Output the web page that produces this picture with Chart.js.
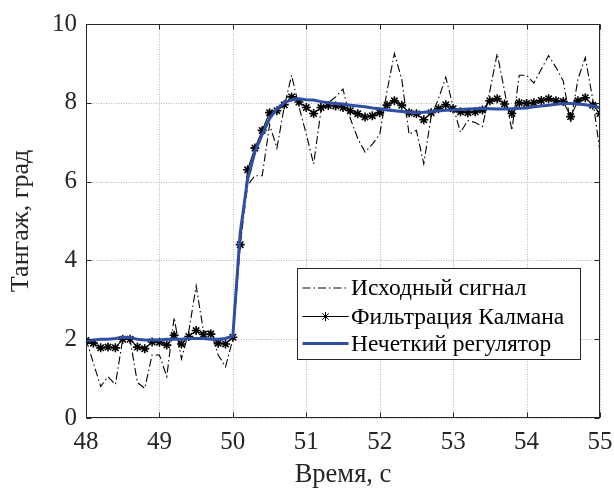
<!DOCTYPE html>
<html>
<head>
<meta charset="utf-8">
<script src="https://cdn.jsdelivr.net/npm/chart.js@4.4.1/dist/chart.umd.min.js"></script>
<style>
  html, body { margin: 0; padding: 0; background: #fff; }
  #wrap { width: 614px; height: 491px; }
</style>
</head>
<body>
<div id="wrap"><canvas id="c" width="614" height="491"></canvas></div>
<script>
const times = [48.0,48.1,48.2,48.3,48.4,48.5,48.6,48.7,48.8,48.9,
  49.0,49.1,49.2,49.3,49.4,49.5,49.6,49.7,49.8,49.9,
  50.0,50.1,50.2,50.3,50.4,50.5,50.6,50.7,50.8,50.9,
  51.0,51.1,51.2,51.3,51.4,51.5,51.6,51.7,51.8,51.9,
  52.0,52.1,52.2,52.3,52.4,52.5,52.6,52.7,52.8,52.9,
  53.0,53.1,53.2,53.3,53.4,53.5,53.6,53.7,53.8,53.9,
  54.0,54.1,54.2,54.3,54.4,54.5,54.6,54.7,54.8,54.9,55.0];

const rawSignal = [2.0,1.4,0.8,1.05,0.85,2.0,2.0,0.9,0.75,1.6,
  1.6,1.05,2.55,1.5,2.2,3.35,2.2,2.2,1.6,1.3,
  2.0,4.4,5.9,6.15,6.15,7.45,6.85,7.9,8.7,7.9,
  7.2,6.45,7.8,8.0,8.15,8.35,7.6,7.1,6.75,6.95,
  7.2,8.3,9.25,8.6,7.2,7.3,6.45,7.65,8.1,8.65,
  7.9,7.25,7.55,7.5,7.4,8.3,9.25,8.3,7.3,8.7,
  8.7,8.5,8.85,9.2,8.9,8.55,7.5,8.6,9.15,8.1,6.75];

const kalman = [1.97,1.9,1.78,1.8,1.78,2.0,2.0,1.8,1.76,1.93,
  1.92,1.85,2.1,1.88,2.07,2.22,2.12,2.13,1.9,1.88,
  2.05,4.4,6.3,6.85,7.3,7.75,7.8,7.95,8.15,8.02,
  7.88,7.73,7.88,7.93,7.92,7.88,7.8,7.72,7.64,7.67,
  7.75,7.94,8.05,7.94,7.75,7.72,7.57,7.75,7.85,7.95,
  7.85,7.77,7.75,7.77,7.82,8.05,8.1,7.97,7.73,8.0,
  7.98,8.0,8.06,8.1,8.05,8.03,7.65,8.05,8.13,7.94,7.73];

const fuzzy = [1.97,1.98,2.0,2.0,2.02,2.05,2.04,2.0,1.98,1.98,
  1.98,2.0,2.0,2.0,2.02,2.02,2.02,2.0,2.0,2.02,
  2.08,4.7,6.05,6.75,7.2,7.6,7.85,8.0,8.08,8.1,
  8.08,8.07,8.03,8.0,7.98,7.97,7.94,7.92,7.9,7.87,
  7.85,7.82,7.8,7.78,7.76,7.75,7.76,7.78,7.8,7.81,
  7.82,7.83,7.84,7.85,7.86,7.85,7.84,7.84,7.85,7.86,
  7.87,7.9,7.92,7.94,7.96,7.98,7.98,7.97,7.95,7.92,7.87];

const seriesNames = ['Исходный сигнал', 'Фильтрация Калмана', 'Нечеткий регулятор'];
const xTicks = [48,49,50,51,52,53,54,55];
const yTicks = [0,2,4,6,8,10];
const xTitle = 'Время, с';
const yTitle = 'Тангаж, град';

const FONT = '"Liberation Serif", "Times New Roman", serif';
const pts = arr => times.map((t, i) => ({x: t, y: arr[i]}));

const framePlugin = {
  id: 'frame',
  beforeDatasetsDraw(chart) {
    const {ctx, chartArea: a, scales: {x, y}} = chart;
    ctx.save();
    ctx.strokeStyle = '#b4b4b4';
    ctx.lineWidth = 1;
    ctx.setLineDash([1, 1.5]);
    xTicks.forEach(v => {
      const px = Math.round(x.getPixelForValue(v)) + 0.5;
      ctx.beginPath(); ctx.moveTo(px, a.top); ctx.lineTo(px, a.bottom); ctx.stroke();
    });
    yTicks.forEach(v => {
      const py = Math.round(y.getPixelForValue(v)) + 0.5;
      ctx.beginPath(); ctx.moveTo(a.left, py); ctx.lineTo(a.right, py); ctx.stroke();
    });
    ctx.restore();
  },
  afterDatasetsDraw(chart) {
    const {ctx, chartArea: a, scales: {x, y}} = chart;
    ctx.save();
    ctx.strokeStyle = '#262626';
    ctx.lineWidth = 1;
    ctx.setLineDash([]);
    const L = Math.round(a.left) + 0.5, R = Math.round(a.right) - 0.5;
    const T = Math.round(a.top) + 0.5, B = Math.round(a.bottom) - 0.5;
    ctx.strokeRect(L, T, R - L, B - T);
    const tl = 5;
    xTicks.forEach(v => {
      const px = Math.round(x.getPixelForValue(v)) + 0.5;
      ctx.beginPath(); ctx.moveTo(px, B); ctx.lineTo(px, B - tl); ctx.stroke();
      ctx.beginPath(); ctx.moveTo(px, T); ctx.lineTo(px, T + tl); ctx.stroke();
    });
    yTicks.forEach(v => {
      const py = Math.round(y.getPixelForValue(v)) + 0.5;
      ctx.beginPath(); ctx.moveTo(L, py); ctx.lineTo(L + tl, py); ctx.stroke();
      ctx.beginPath(); ctx.moveTo(R, py); ctx.lineTo(R - tl, py); ctx.stroke();
    });

    // legend box
    const bx = 297.5, by = 268.5, bw = 283, bh = 91;
    ctx.fillStyle = '#ffffff';
    ctx.fillRect(bx, by, bw, bh);
    ctx.strokeStyle = '#262626';
    ctx.strokeRect(bx, by, bw, bh);
    const rows = [288, 316.5, 343.5];
    const x0 = 302.5, x1 = 348.5;
    chart.data.datasets.forEach((ds, i) => {
      const ry = rows[i];
      ctx.save();
      ctx.strokeStyle = ds.borderColor;
      ctx.lineWidth = ds.borderWidth;
      ctx.setLineDash(ds.borderDash || []);
      ctx.beginPath(); ctx.moveTo(x0, ry); ctx.lineTo(x1, ry); ctx.stroke();
      ctx.restore();
      if (ds.pointStyle === 'star') {
        ctx.save();
        ctx.strokeStyle = ds.pointBorderColor;
        ctx.fillStyle = ds.pointBackgroundColor;
        Chart.helpers.drawPoint(ctx, {pointStyle: 'star', radius: ds.pointRadius, borderWidth: ds.pointBorderWidth, rotation: 0}, (x0 + x1) / 2, ry);
        ctx.restore();
      }
      ctx.fillStyle = '#000';
      ctx.font = '23.5px ' + FONT;
      ctx.textBaseline = 'middle';
      ctx.textAlign = 'left';
      ctx.fillText(ds.label, 351, ry + 1);
    });
    ctx.restore();
  }
};

new Chart(document.getElementById('c'), {
  type: 'line',
  data: {
    datasets: [
      {
        label: seriesNames[0],
        data: pts(rawSignal),
        borderColor: '#000000',
        borderWidth: 1.1,
        borderDash: [8, 3, 1.5, 3],
        pointRadius: 0,
        fill: false,
        order: 3
      },
      {
        label: seriesNames[1],
        data: pts(kalman),
        borderColor: '#000000',
        borderWidth: 1.1,
        pointStyle: 'star',
        pointRadius: 4.5,
        pointBorderWidth: 1.6,
        pointBorderColor: '#000000',
        pointBackgroundColor: '#000000',
        fill: false,
        order: 2
      },
      {
        label: seriesNames[2],
        data: pts(fuzzy),
        borderColor: '#2f4fa5',
        borderWidth: 3,
        pointRadius: 0,
        fill: false,
        order: 1
      }
    ]
  },
  options: {
    responsive: false,
    animation: false,
    events: [],
    layout: { padding: { left: 0, right: 14, top: 24, bottom: 0 } },
    plugins: { legend: { display: false }, tooltip: { enabled: false } },
    elements: { line: { tension: 0 } },
    scales: {
      x: {
        type: 'linear',
        min: 48, max: 55,
        afterBuildTicks: s => { s.ticks = xTicks.map(v => ({value: v})); },
        afterFit: s => { s.height = 73; s.paddingLeft = 0; s.paddingRight = 0; },
        grid: { display: false, drawTicks: false },
        border: { display: false },
        ticks: { color: '#262626', padding: 9, font: { family: FONT, size: 25 } },
        title: { display: true, text: xTitle, color: '#262626', padding: { top: 0, bottom: 0 }, font: { family: FONT, size: 26.5 } }
      },
      y: {
        min: 0, max: 10,
        afterBuildTicks: s => { s.ticks = yTicks.map(v => ({value: v})); },
        afterFit: s => { s.width = 86; s.paddingTop = 0; s.paddingBottom = 0; },
        grid: { display: false, drawTicks: false },
        border: { display: false },
        ticks: { color: '#262626', padding: 9, font: { family: FONT, size: 25 } },
        title: { display: true, text: yTitle, color: '#262626', padding: { top: 6, bottom: 0 }, font: { family: FONT, size: 26 } }
      }
    }
  },
  plugins: [framePlugin]
});
</script>
</body>
</html>
